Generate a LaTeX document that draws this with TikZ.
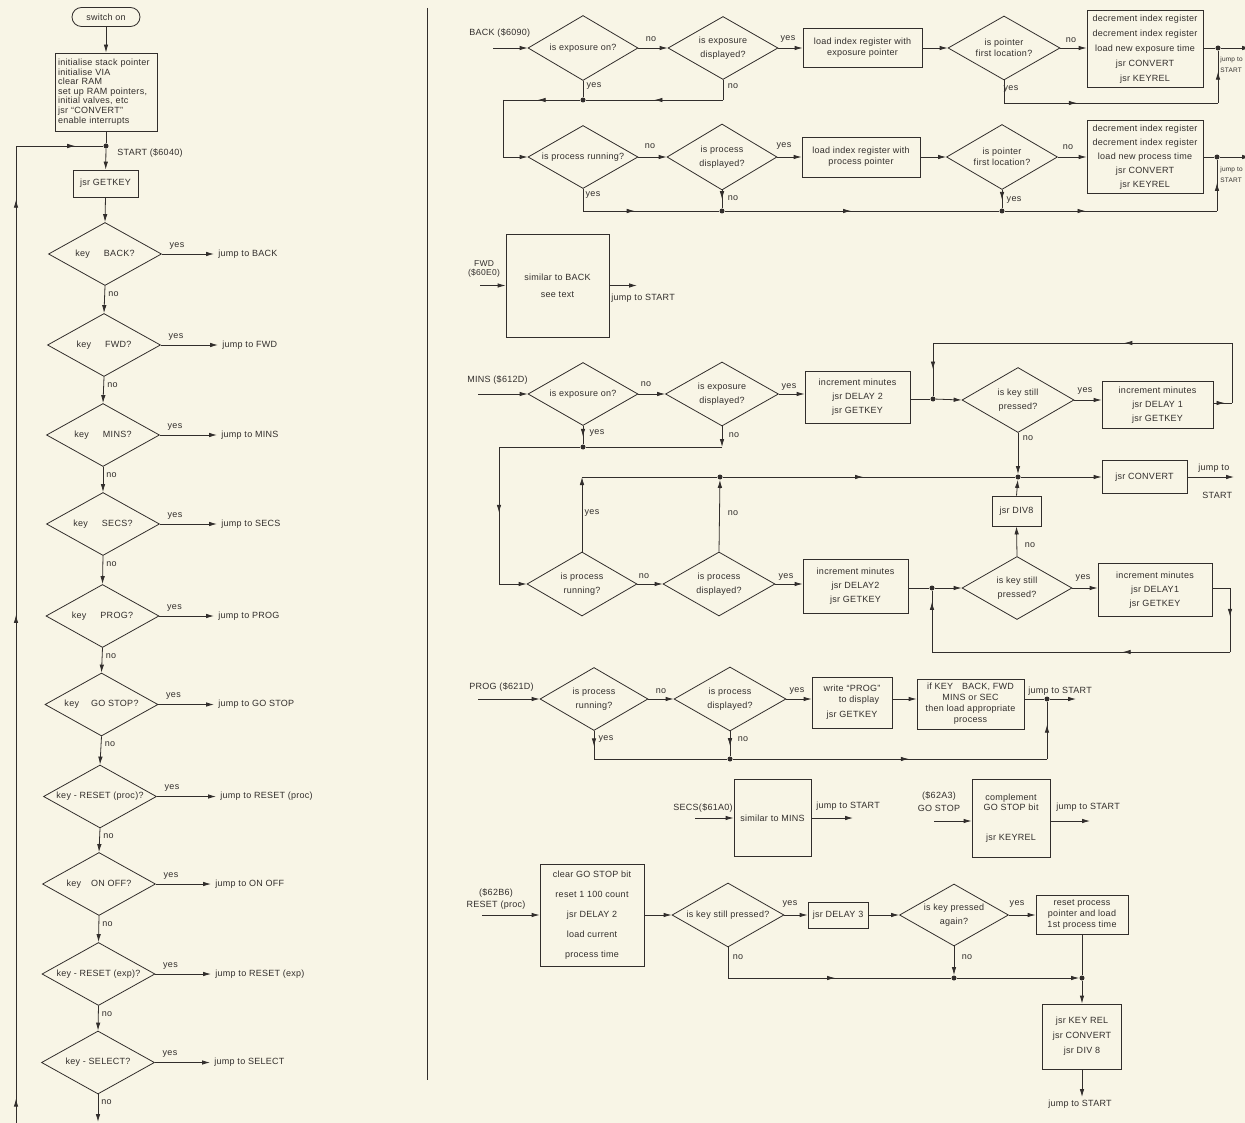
\documentclass[tikz,border=0pt]{standalone}
\usepackage{fontspec}
\setmainfont{Liberation Sans}[LetterSpace=3]
\usetikzlibrary{shapes.geometric,arrows.meta,decorations.markings}
\definecolor{paper}{RGB}{248,245,230}
\definecolor{ink}{RGB}{50,46,44}
\newcommand\fsz{\fontsize{9}{11}\selectfont}
\tikzset{
  txt/.style={font=\fsz},
  dia/.style={txt,diamond,draw,shape aspect=1.8,inner sep=0pt,minimum width=112pt,minimum height=63pt,align=center},
  bx/.style={txt,draw,inner sep=0pt,align=center},
  lab/.style={txt,inner sep=1pt},
  edgelab/.style={inner sep=0pt,align=left,font={\fontsize{6.5}{11}\selectfont}},
  dotn/.style={circle,fill,inner sep=0pt,minimum size=5pt},
  arr/.style={-{Latex[length=8pt,width=4.5pt]}},
  marr/.style={postaction={decorate},decoration={markings,mark=at position #1 with {\arrow{Latex[length=8pt,width=4.5pt]}}}},
}
\begin{document}
\begin{tikzpicture}[x=1pt,y=-1pt,color=ink,line width=0.8pt]
\useasboundingbox (0,0) rectangle (1245,1123);
\fill[paper] (0,0) rectangle (1245,1123);

% ================= LEFT COLUMN =================
\node[bx,rounded corners=9.5pt,minimum width=68pt,minimum height=19pt] (sw) at (106,17) {switch on};
\node[bx,align=left,text width=96pt,minimum height=78pt,inner sep=3pt,font={\fontsize{9}{9.6}\selectfont}] (init) at (106,92)
  {initialise stack pointer\\initialise VIA\\clear RAM\\set up RAM pointers,\\initial valves, etc\\jsr “CONVERT”\\enable interrupts};
\node[dotn] (st) at (106,146) {};
\node[lab,anchor=west] (stl) at (116,153) {START (\$6040)};
\node[bx,minimum width=65pt,minimum height=27pt] (gk) at (105.5,183.5) {jsr GETKEY};
\draw[arr] (sw) -- (init);
\draw (init) -- (st);
\draw[arr] (st) -- (gk);

\foreach \n/\cx/\cy/\t/\j/\jx in {
  1/105/254/{key\hspace{14pt}BACK?}/{jump to BACK}/217,
  2/104/345/{key\hspace{14pt}FWD?}/{jump to FWD}/221,
  3/103/435/{key\hspace{14pt}MINS?}/{jump to MINS}/220,
  4/103/524/{key\hspace{14pt}SECS?}/{jump to SECS}/220,
  5/102.5/616/{key\hspace{14pt}PROG?}/{jump to PROG}/217,
  6/101.5/704.5/{key\hspace{12pt}GO STOP?}/{jump to GO STOP}/217,
  7/100/796.5/{key - RESET (proc)?}/{jump to RESET (proc)}/219,
  8/99/884/{key\hspace{10pt}ON OFF?}/{jump to ON OFF}/214,
  9/98.5/974/{key - RESET (exp)?}/{jump to RESET (exp)}/214,
  10/98/1062.5/{key - SELECT?}/{jump to SELECT}/213}{
  \node[dia,minimum width=113pt] (k\n) at (\cx,\cy) {\t};
  \node[lab,anchor=west] (kj\n) at (\jx,\cy) {\j};
  \draw[arr,shorten >=3pt] (k\n.east) -- (kj\n.west);
  \node[lab] (ky\n) at (\cx+72,\cy-8) {yes};
  \node[lab,anchor=west] (kn\n) at (\cx+2,\cy+40) {no};
}
\draw[arr] (gk.south) -- (k1.north);
\foreach \a/\b in {1/2,2/3,3/4,4/5,5/6,6/7,7/8,8/9,9/10}{
  \draw[arr] (k\a.south) -- (k\b.north);
}
\coordinate (sb) at (98,1122);
\draw[arr] (k10.south) -- (sb);
\coordinate (lb) at (16,1123);
\coordinate (lt) at (16,146);
\draw[postaction={decorate},decoration={markings,
   mark=at position 0.025 with {\arrow{Latex[length=8pt,width=4.5pt]}},
   mark=at position 0.52 with {\arrow{Latex[length=8pt,width=4.5pt]}},
   mark=at position 0.945 with {\arrow{Latex[length=8pt,width=4.5pt]}}}] (lb) -- (lt);
\draw[marr=0.68] (lt) -- (st);

% divider
\coordinate (dv1) at (427,8);
\coordinate (dv2) at (427,1080);
\draw (dv1) -- (dv2);

% ================= BACK =================
\node[lab,anchor=west] (backl) at (468,33) {BACK (\$6090)};
\coordinate (bin) at (493,48);
\node[dia,minimum width=110pt,minimum height=65pt] (d1) at (583,48) {is exposure on?};
\node[dia,minimum width=110pt,minimum height=63pt] (d2) at (723,48) {is exposure\\[3pt]displayed?};
\node[bx,minimum width=119pt,minimum height=39pt] (b1) at (862.5,48) {load index register with\\exposure pointer};
\node[dia,minimum width=112pt,minimum height=64pt] (d3) at (1004,48) {is pointer\\first location?};
\node[bx,minimum width=116pt,minimum height=77pt] (b2) at (1145,49) {decrement index register\\[4pt]decrement index register\\[4pt]load new exposure time\\[4pt]jsr CONVERT\\[4pt]jsr KEYREL};
\node[dotn] (j1) at (1218,48) {};
\coordinate (e1) at (1250,48);
\node[edgelab,anchor=north west] (jt1) at (1220,56) {jump to\\START};
\draw[arr] (bin) -- (d1.west);
\draw[arr] (d1.east) -- (d2.west);
\draw[arr] (d2.east) -- (b1.west);
\draw[arr] (b1.east) -- (d3.west);
\draw[arr] (d3.east) -- (d3.east -| b2.west);
\draw (b2.east |- j1) -- (j1);
\draw[arr] (j1) -- (e1);
\node[lab] (l1) at (651,39) {no};
\node[lab] (l2) at (788,39) {yes};
\node[lab] (l3) at (1071,40) {no};
\node[lab] (l4) at (594,86) {yes};
\node[lab] (l5) at (733,86) {no};
\node[lab] (l6) at (1011,89) {yes};
\coordinate (c1) at (1004,103);
\coordinate (c2) at (1218,103);
\draw (d3.south) -- (c1);
\draw[marr=0.34] (c1) -- (c2);
\draw[marr=0.6] (c2) -- (j1);
\node[dotn] (j2) at (583,100) {};
\coordinate (c3) at (723,100);
\coordinate (c4) at (503,100);
\coordinate (c5) at (503,157);
\draw (d1.south) -- (j2);
\draw (d2.south) -- (c3);
\draw[marr=0.5] (c3) -- (j2);
\draw[marr=0.55] (j2) -- (c4);
\draw (c4) -- (c5);

\node[dia,minimum width=110pt,minimum height=63pt] (d4) at (583,157) {is process running?};
\node[dia,minimum width=110pt,minimum height=66pt] (d5) at (722,157) {is process\\[3pt]displayed?};
\node[bx,minimum width=118pt,minimum height=40pt] (b3) at (861,157) {load index register with\\process pointer};
\node[dia,minimum width=111pt,minimum height=65pt] (d6) at (1002,157) {is pointer\\first location?};
\node[bx,minimum width=116pt,minimum height=73pt] (b4) at (1145,157) {decrement index register\\[3pt]decrement index register\\[3pt]load new process time\\[3pt]jsr CONVERT\\[3pt]jsr KEYREL};
\node[dotn] (j3) at (1217,157) {};
\coordinate (e3) at (1250,157);
\node[edgelab,anchor=north west] (jt2) at (1220,166) {jump to\\START};
\draw[arr] (c5) -- (d4.west);
\draw[arr] (d4.east) -- (d5.west);
\draw[arr] (d5.east) -- (b3.west);
\draw[arr] (b3.east) -- (d6.west);
\draw[arr] (d6.east) -- (b4.west);
\draw (b4.east) -- (j3);
\draw[arr] (j3) -- (e3);
\node[lab] (l7) at (650,146) {no};
\node[lab] (l8) at (784,146) {yes};
\node[lab] (l9) at (1068,147) {no};
\node[lab] (l10) at (593,195) {yes};
\node[lab] (l11) at (733,198) {no};
\node[lab] (l12) at (1014,200) {yes};
\coordinate (c6) at (583,211);
\node[dotn] (j4) at (722,211) {};
\node[dotn] (j5) at (1002,211) {};
\coordinate (c7) at (1217,211);
\draw (d4.south) -- (c6);
\draw[marr=0.38] (c6) -- (j4);
\draw[marr=0.5] (d5.south) -- (j4);
\draw[marr=0.46] (j4) -- (j5);
\draw[marr=0.55] (d6.south) -- (j5);
\draw[marr=0.38] (j5) -- (c7);
\draw[marr=0.55] (c7) -- (j3);

% ================= FWD =================
\node[lab,align=center,font={\fontsize{8.5}{8.5}\selectfont}] (fwdl) at (484,269) {FWD\\(\$60E0)};
\coordinate (fin) at (480,285.5);
\node[bx,minimum width=103pt,minimum height=103pt] (fb) at (557.5,285.5) {similar to BACK\\[6pt]see text};
\coordinate (fout) at (637,285.5);
\draw[arr] (fin) -- (fb.west);
\draw[arr] (fb.east) -- (fout);
\node[lab,anchor=west] (fj) at (610,298) {jump to START};

% ================= MINS =================
\node[lab,anchor=west] (minsl) at (466,380) {MINS (\$612D)};
\coordinate (min) at (478,394);
\node[dia,minimum width=110pt,minimum height=63pt] (mA) at (583,394) {is exposure on?};
\node[dia,minimum width=113pt,minimum height=64pt] (mB) at (722,394) {is exposure\\[3pt]displayed?};
\node[bx,minimum width=105pt,minimum height=52pt] (mb1) at (857.5,397) {increment minutes\\[3pt]jsr DELAY 2\\[3pt]jsr GETKEY};
\node[dotn] (mj1) at (933,399) {};
\node[dia,minimum width=112pt,minimum height=65pt] (mC) at (1018,400) {is key still\\[3pt]pressed?};
\node[bx,minimum width=111pt,minimum height=47pt] (mb2) at (1157.5,405) {increment minutes\\[3pt]jsr DELAY 1\\[3pt]jsr GETKEY};
\draw[arr] (min) -- (mA.west);
\draw[arr] (mA.east) -- (mB.west);
\draw[arr] (mB.east) -- (mB.east -| mb1.west);
\draw (mb1.east |- mj1) -- (mj1);
\draw[arr] (mj1) -- (mC.west);
\draw[arr] (mC.east) -- (mC.east -| mb2.west);
\coordinate (mc1) at (1232,403);
\coordinate (mc2) at (1232,343);
\coordinate (mc3) at (933,343);
\draw[marr=0.6] (mb2.east |- mc1) -- (mc1);
\draw (mc1) -- (mc2);
\draw[marr=0.36] (mc2) -- (mc3);
\draw[marr=0.5] (mc3) -- (mj1);
\node[lab] (l13) at (646,384) {no};
\node[lab] (l14) at (789,387) {yes};
\node[lab] (l15) at (1085,391) {yes};
\node[lab] (l16) at (1028,438) {no};
\node[lab] (l17) at (597,433) {yes};
\node[lab] (l18) at (734,435) {no};
\node[dotn] (mj3) at (583,447) {};
\coordinate (mc4) at (722,447);
\coordinate (mc5) at (499,447);
\coordinate (mc6) at (499,584);
\draw[marr=0.6] (mA.south) -- (mj3);
\draw[arr] (mB.south) -- (mc4);
\draw (mc4) -- (mj3);
\draw (mj3) -- (mc5);
\draw[marr=0.48] (mc5) -- (mc6);

\node[dia,minimum width=110pt,minimum height=64pt] (mD) at (582,584) {is process\\[3pt]running?};
\node[dia,minimum width=112pt,minimum height=64pt] (mE) at (719,584) {is process\\[3pt]displayed?};
\node[bx,minimum width=105pt,minimum height=54pt] (mb3) at (855.5,586) {increment minutes\\[3pt]jsr DELAY2\\[3pt]jsr GETKEY};
\node[dotn] (mj5) at (932,588) {};
\node[dia,minimum width=110pt,minimum height=63pt] (mF) at (1017,588) {is key still\\[3pt]pressed?};
\node[bx,minimum width=114pt,minimum height=53pt] (mb4) at (1155,590) {increment minutes\\[3pt]jsr DELAY1\\[3pt]jsr GETKEY};
\node[bx,minimum width=49pt,minimum height=30pt] (dv) at (1016.5,511) {jsr DIV8};
\node[dotn] (mj2) at (1018,477) {};
\node[dotn] (mj4) at (720,477) {};
\coordinate (mc7) at (582,477);
\node[bx,minimum width=85pt,minimum height=33pt] (cv) at (1144.5,477) {jsr CONVERT};
\coordinate (mout) at (1234,477);
\draw[arr] (mc6) -- (mD.west);
\draw[arr] (mD.east) -- (mE.west);
\draw[arr] (mE.east) -- (mE.east -| mb3.west);
\draw (mb3.east |- mj5) -- (mj5);
\draw[arr] (mj5) -- (mF.west);
\draw[arr] (mF.east) -- (mF.east -| mb4.west);
\coordinate (mc8) at (1230,588);
\coordinate (mc9) at (1230,652);
\coordinate (mc10) at (932,652);
\draw (mb4.east |- mc8) -- (mc8);
\draw[marr=0.45] (mc8) -- (mc9);
\draw[marr=0.36] (mc9) -- (mc10);
\draw[marr=0.82] (mc10) -- (mj5);
\draw[arr] (mD.north) -- (mc7);
\draw (mc7) -- (mj4);
\draw[arr] (mE.north) -- (mj4);
\draw[marr=0.48] (mj4) -- (mj2);
\draw[arr] (mC.south) -- (mj2);
\draw[arr] (mF.north) -- (dv.south);
\draw[arr] (dv.north) -- (mj2);
\draw[arr] (mj2) -- (cv.west);
\draw[arr] (cv.east) -- (mout);
\node[lab,anchor=west] (cvj1) at (1197,468) {jump to};
\node[lab,anchor=west] (cvj2) at (1201,495) {START};
\node[lab] (l19) at (592,513) {yes};
\node[lab] (l20) at (733,513) {no};
\node[lab] (l21) at (1030,545) {no};
\node[lab] (l22) at (644,576) {no};
\node[lab] (l23) at (786,577) {yes};
\node[lab] (l24) at (1083,578) {yes};

% ================= PROG =================
\node[lab,anchor=west] (progl) at (468,687) {PROG (\$621D)};
\coordinate (pin) at (478,699);
\node[dia,minimum width=108pt,minimum height=63pt] (pG) at (594,699) {is process\\[3pt]running?};
\node[dia,minimum width=112pt,minimum height=64pt] (pH) at (730,699) {is process\\[3pt]displayed?};
\node[bx,minimum width=80pt,minimum height=51pt] (pb1) at (852,702.5) {write “PROG”\\\hspace*{14pt}to display\\[4pt]jsr GETKEY};
\node[bx,minimum width=107pt,minimum height=50pt] (pb2) at (970.5,704) {if KEY\hspace{9pt}BACK, FWD\\MINS or SEC\\then load appropriate\\process};
\node[dotn] (pj1) at (1047,699) {};
\coordinate (pout) at (1076,699);
\draw[arr] (pin) -- (pG.west);
\draw[arr] (pG.east) -- (pH.west);
\draw[arr] (pH.east) -- (pH.east -| pb1.west);
\draw[arr] (pb1.east |- pH.east) -- (pH.east -| pb2.west);
\draw (pb2.east |- pj1) -- (pj1);
\draw[arr] (pj1) -- (pout);
\node[lab,anchor=south west] (pj) at (1027,697) {jump to START};
\node[lab] (l25) at (661,691) {no};
\node[lab] (l26) at (797,691) {yes};
\node[lab] (l27) at (606,739) {yes};
\node[lab] (l28) at (743,739) {no};
\coordinate (pc1) at (594,759);
\node[dotn] (pj2) at (730,759) {};
\coordinate (pc2) at (1047,759);
\draw[marr=0.55] (pG.south) -- (pc1);
\draw (pc1) -- (pj2);
\draw[marr=0.6] (pH.south) -- (pj2);
\draw[marr=0.56] (pj2) -- (pc2);
\draw[marr=0.6] (pc2) -- (pj1);

% ================= SECS / GO STOP =================
\node[lab,anchor=west] (secsl) at (672,808) {SECS(\$61A0)};
\coordinate (sin) at (695,818);
\node[bx,minimum width=77pt,minimum height=77pt] (sbx) at (772.5,818) {similar to MINS};
\coordinate (sout) at (853,818);
\draw[arr] (sin) -- (sbx.west);
\draw[arr] (sbx.east) -- (sout);
\node[lab,anchor=west] (sj) at (815,806) {jump to START};

\node[lab,align=center] (gsl) at (939,802) {(\$62A3)\\[2pt]GO STOP};
\coordinate (gin) at (934,821);
\node[bx,minimum width=78pt,minimum height=78pt] (gbx) at (1011,818) {complement\\[-1pt]GO STOP bit\\[19pt]jsr KEYREL};
\coordinate (gout) at (1090,821);
\draw[arr] (gin) -- (gin -| gbx.west);
\draw[arr] (gbx.east |- gin) -- (gout);
\node[lab,anchor=west] (gj) at (1055,807) {jump to START};

% ================= RESET =================
\node[lab,align=center] (rl) at (496,899) {(\$62B6)\\[1pt]RESET (proc)};
\coordinate (rin) at (482,915);
\node[bx,minimum width=104pt,minimum height=102pt] (rA) at (592,915) {clear GO STOP bit\\[9pt]reset 1 100 count\\[9pt]jsr DELAY 2\\[9pt]load current\\[9pt]process time};
\node[dia,minimum width=112pt,minimum height=64pt] (rB) at (728,915) {is key still pressed?};
\node[bx,minimum width=60pt,minimum height=26pt] (rC) at (838,915) {jsr DELAY 3};
\node[dia,minimum width=109pt,minimum height=62pt] (rD) at (954,915) {is key pressed\\[3pt]again?};
\node[bx,minimum width=92pt,minimum height=39pt] (rE) at (1082,915) {reset process\\pointer and load\\1st process time};
\node[dotn] (rj1) at (1082,978) {};
\node[bx,minimum width=79pt,minimum height=65pt] (rF) at (1082,1036.5) {jsr KEY REL\\[4pt]jsr CONVERT\\[4pt]jsr DIV 8};
\coordinate (rout) at (1082,1097);
\node[lab,anchor=north] (rj) at (1080,1099) {jump to START};
\draw[arr] (rin) -- (rA.west);
\draw[arr] (rA.east) -- (rB.west);
\draw[arr] (rB.east) -- (rC.west);
\draw[arr] (rC.east) -- (rD.west);
\draw[arr] (rD.east) -- (rE.west);
\draw (rE.south) -- (rj1);
\draw[arr] (rj1) -- (rF.north);
\draw[arr] (rF.south) -- (rout);
\coordinate (rc1) at (728,978);
\node[dotn] (rj2) at (954,978) {};
\draw (rB.south) -- (rc1);
\draw[marr=0.48] (rc1) -- (rj2);
\draw[arr] (rD.south) -- (rj2);
\draw[arr] (rj2) -- (rj1);
\node[lab] (l29) at (790,904) {yes};
\node[lab] (l30) at (1017,904) {yes};
\node[lab] (l31) at (738,957) {no};
\node[lab] (l32) at (967,957) {no};
\end{tikzpicture}
\end{document}
